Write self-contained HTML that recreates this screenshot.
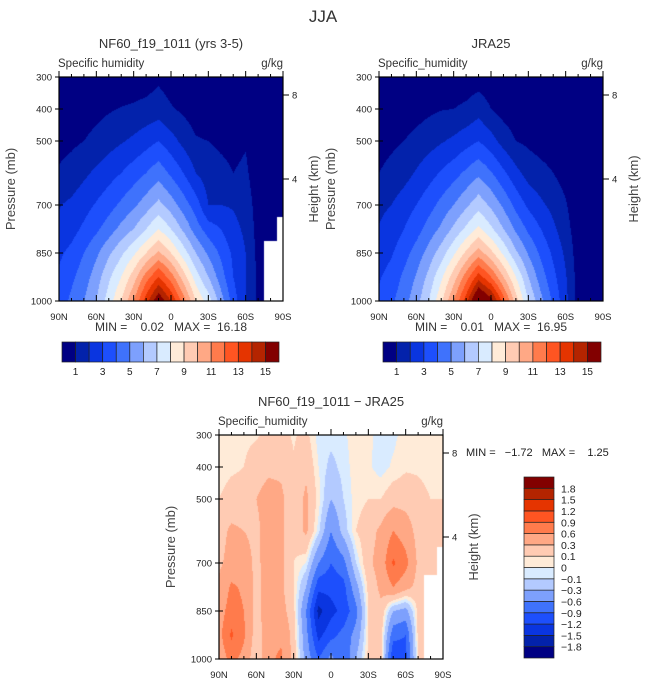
<!DOCTYPE html>
<html><head><meta charset="utf-8">
<style>
html,body{margin:0;padding:0;background:#fff;}
#root{position:relative;width:647px;height:684px;overflow:hidden;font-family:"Liberation Sans",sans-serif;}
canvas{position:absolute;}
svg{position:absolute;left:0;top:0;}
text{white-space:pre;}
</style></head>
<body>
<div id="root">
<canvas id="c1" width="224" height="224" style="left:59px;top:77px"></canvas>
<canvas id="c2" width="224" height="224" style="left:379px;top:77px"></canvas>
<canvas id="c3" width="224" height="224" style="left:219px;top:435px"></canvas>
<svg id="s" width="647" height="684"></svg>
</div>
<script>
const lats=[90,80,70,60,50,40,30,20,10,0,-10,-20,-30,-40,-50,-60,-70,-80,-90];
const pres=[300,400,500,600,700,775,850,925,1000];
const modelQ=[
[0.1,0.15,0.2,0.25,0.3,0.35,0.4,0.5,0.8,0.5,0.3,0.2,0.2,0.2,0.2,0.2,0.1,0.1,0.1],
[0.3,0.4,0.5,0.7,0.9,1.05,1.15,1.3,1.5,1.1,0.8,0.5,0.3,0.3,0.3,0.3,0.1,0.1,0.1],
[0.7,0.8,1.0,1.3,1.6,1.9,2.2,2.6,3.0,2.4,1.7,1.1,1.0,0.8,0.7,0.9,0.2,0.1,0.1],
[1.1,1.4,1.8,2.2,2.6,3.0,3.5,4.0,4.6,3.8,3.0,2.0,1.5,1.3,1.0,1.2,0.3,0.2,0.1],
[1.95,2.2,2.6,3.1,3.6,4.2,4.8,5.5,6.3,5.5,4.5,3.5,2.0,2.0,1.9,1.6,0.5,0.3,0.2],
[2.2,2.6,3.2,3.8,4.5,5.3,6.0,7.0,8.0,7.0,5.8,4.5,3.5,3.0,2.3,1.8,0.6,0.4,null],
[2.8,3.3,4.0,4.8,5.8,6.8,7.8,9.0,10.2,9.0,7.5,6.0,4.8,3.8,2.8,2.0,0.7,null,null],
[3.2,3.8,4.5,5.5,6.8,8.0,9.5,11.5,13.0,11.5,9.5,7.5,6.0,4.5,3.0,2.0,0.8,null,null],
[3.5,4.2,5.0,6.0,7.5,9.0,11.0,13.5,16.0,14.0,11.5,9.0,7.5,5.5,3.5,2.0,0.8,null,null]];
const jraQ=[
[0.1,0.1,0.15,0.2,0.25,0.3,0.35,0.4,0.5,0.4,0.3,0.2,0.15,0.1,0.1,0.1,0.1,0.1,0.1],
[0.3,0.35,0.45,0.6,0.8,0.95,1.0,1.2,1.6,1.0,0.6,0.4,0.3,0.3,0.2,0.2,0.1,0.1,0.1],
[0.6,0.8,1.0,1.3,1.6,1.9,2.2,2.6,3.0,2.4,1.6,1.0,0.8,0.6,0.5,0.3,0.1,0.1,0.1],
[1.0,1.3,1.6,2.1,2.6,3.1,3.6,4.2,4.8,4.1,3.2,2.3,1.6,1.3,1.0,0.6,0.2,0.1,0.1],
[1.8,2.0,2.5,3.0,3.6,4.3,5.0,5.8,6.6,5.8,4.8,3.7,2.8,2.2,1.7,1.1,0.3,0.1,0.1],
[2.05,2.4,3.0,3.6,4.4,5.2,6.2,7.2,8.2,7.2,6.0,4.8,3.8,3.0,2.2,1.4,0.4,0.2,0.1],
[2.4,2.9,3.6,4.4,5.4,6.5,7.8,9.2,10.5,9.3,7.8,6.2,4.9,3.8,2.8,1.8,0.5,0.2,0.1],
[2.9,3.4,4.2,5.1,6.3,7.8,9.5,11.5,13.5,12.0,10.0,8.0,6.0,4.5,3.3,2.1,0.6,0.3,0.2],
[3.2,3.8,4.6,5.6,7.0,8.8,11.0,13.5,17.0,15.5,12.5,9.5,7.0,5.3,3.8,2.3,0.6,0.3,0.2]];
const diffQ=[
[0.05,0.05,0.06,0.08,0.15,0.15,0.08,0.15,-0.05,-0.05,-0.02,0.05,0.03,-0.05,-0.03,0.05,0.05,0.05,0.05],
[0.05,0.08,0.1,0.2,0.25,0.25,0.12,0.25,0.0,-0.15,-0.05,0.05,0.02,-0.05,0.02,0.08,0.08,0.06,0.05],
[0.1,0.15,0.15,0.3,0.4,0.35,0.15,0.35,0.05,-0.3,-0.1,0.05,0.1,0.1,0.2,0.2,0.15,0.1,0.1],
[0.2,0.35,0.3,0.25,0.4,0.35,0.15,0.35,-0.05,-0.6,-0.2,0.1,0.2,0.35,0.6,0.45,0.2,0.15,0.1],
[0.25,0.4,0.4,0.25,0.4,0.35,0.1,0.0,-0.6,-0.9,-0.7,-0.1,0.25,0.4,0.95,0.7,0.25,0.15,null],
[0.35,0.65,0.55,0.2,0.45,0.35,0.1,-0.3,-1.1,-1.1,-1.0,-0.4,0.15,0.35,0.6,0.4,0.2,null,null],
[0.45,0.75,0.6,0.2,0.45,0.4,0.15,-0.6,-1.6,-1.3,-1.1,-0.7,0.1,0.25,-0.3,-0.4,0.15,null,null],
[0.5,0.95,0.65,0.15,0.5,0.55,0.2,-0.5,-1.3,-1.0,-0.8,-0.5,0.1,0.2,-0.8,-0.9,0.15,null,null],
[0.4,0.7,0.5,0.1,0.55,0.65,0.2,-0.4,-0.9,-0.5,-0.9,-0.3,0.15,0.2,-1.2,-1.0,0.1,null,null]];
const qLevels=[1,2,3,4,5,6,7,8,9,10,11,12,13,14,15];
const qLabels=['1','3','5','7','9','11','13','15'];
const dLevels=[-1.8,-1.5,-1.2,-0.9,-0.6,-0.3,-0.1,0,0.1,0.3,0.6,0.9,1.2,1.5,1.8];
const dLabels=['-1.8','-1.5','-1.2','-0.9','-0.6','-0.3','-0.1','0','0.1','0.3','0.6','0.9','1.2','1.5','1.8'];
const pTicks=[300,400,500,700,850,1000];
const latTicks=[90,60,30,0,-30,-60,-90];
const latNames=['90N','60N','30N','0','30S','60S','90S'];
const colors=['#000083','#0322ab','#0a35e0','#1d4ffc','#3f72fc','#7da0fd','#b3caff','#d9ebff','#ffebd8','#ffcbb3','#ffa885','#ff7b4c','#ff5522','#e53400','#b42400','#820000'];

const W=224,H=224;
function xScale(lat){return (90-lat)/180*W;}
function yScale(p){return (p-300)/700*H;}
function colorFor(v,levels){let i=0;while(i<levels.length&&v>=levels[i])i++;return colors[i];}
function sample(grid,lat,p){
  let fi=(90-lat)/10; let i0=Math.min(Math.floor(fi),lats.length-2); let tx=fi-i0;
  let j0=0; while(j0<pres.length-2&&p>pres[j0+1])j0++; let ty=(p-pres[j0])/(pres[j0+1]-pres[j0]);
  const a=grid[j0][i0],b=grid[j0][i0+1],c=grid[j0+1][i0],d=grid[j0+1][i0+1];
  if(a===null||b===null||c===null||d===null){
    return grid[ty<0.5?j0:j0+1][tx<0.5?i0:i0+1];
  }
  return a*(1-tx)*(1-ty)+b*tx*(1-ty)+c*(1-tx)*ty+d*tx*ty;
}
function drawField(id,grid,levels){
  const ctx=document.getElementById(id).getContext('2d');
  for(let y=0;y<H;y++){for(let x=0;x<W;x++){
    const lat=90-(x+0.5)/W*180, p=300+(y+0.5)/H*700;
    const v=sample(grid,lat,p);
    ctx.fillStyle=v===null?'#ffffff':colorFor(v,levels);
    ctx.fillRect(x,y,1,1);
  }}
}
drawField('c1',modelQ,qLevels);
drawField('c2',jraQ,qLevels);
drawField('c3',diffQ,dLevels);

const svg=document.getElementById('s');
const NS='http://www.w3.org/2000/svg';
function mk(tag,attrs,name,txt){const e=document.createElementNS(NS,tag);for(const k in attrs)e.setAttribute(k,attrs[k]);
  
  
  if(txt!==undefined)e.textContent=txt;svg.appendChild(e);return e;}
function text(x,y,s,size,anchor,name,extra){const a={x:x,y:y,'font-size':size,'text-anchor':anchor||'middle',fill:'#000','font-family':'Liberation Sans, sans-serif'};if(extra)for(const k in extra)a[k]=extra[k];return mk('text',a,name,s);}

text(323,22,'JJA',17,'middle','figure-title',{fill:'#333'});
function panel(ox,oy,title,minmax,heightTicks,pfx){
  text(ox+112,oy-29,title,13,'middle',pfx+'-title',{fill:'#333'});
  text(ox-1,oy-10,pfx==='model'?'Specific humidity':'Specific_humidity',11.5,'start',pfx+'-variable-label',{fill:'#333'});
  text(ox+W,oy-10,'g/kg',11.5,'end',pfx+'-units-label',{fill:'#333'});
  mk('rect',{x:ox,y:oy,width:W,height:H,fill:'none',stroke:'#000','stroke-width':1.2},pfx+'-plot-frame');
  for(let lat=90;lat>=-90;lat-=10){
    const x=ox+xScale(lat);const major=lat%30===0;
    mk('line',{x1:x,x2:x,y1:oy,y2:oy-(major?6:3),stroke:'#000','stroke-width':1},pfx+'-top-tick');
    mk('line',{x1:x,x2:x,y1:oy+H,y2:oy+H-(major?6:3),stroke:'#000','stroke-width':1},pfx+'-bottom-tick');
  }
  latTicks.forEach((lat,i)=>text(ox+xScale(lat),oy+H+19,latNames[i],9.5,'middle',pfx+'-x-tick-label',{fill:'#222'}));
  pTicks.forEach(p=>{const y=oy+yScale(p);
    mk('line',{x1:ox-4,x2:ox+4,y1:y,y2:y,stroke:'#000','stroke-width':1},pfx+'-y-tick');
    text(ox-7,y+3.5,String(p),9.5,'end',pfx+'-y-tick-label',{fill:'#222'});});
  heightTicks.forEach((h,i)=>{const y=oy+h;
    mk('line',{x1:ox+W,x2:ox+W+6,y1:y,y2:y,stroke:'#000','stroke-width':1},pfx+'-height-tick');
    text(ox+W+9,y+3.5,i===0?'8':'4',9.5,'start',pfx+'-height-tick-label',{fill:'#222'});});
  text(0,0,'Pressure (mb)',13,'middle',pfx+'-y-axis-title',{transform:'translate('+(ox-44)+','+(oy+112)+') rotate(-90)',fill:'#444'});
  text(0,0,'Height (km)',13,'middle',pfx+'-height-axis-title',{transform:'translate('+(ox+W+35)+','+(oy+112)+') rotate(-90)',fill:'#444'});
  if(minmax) text(ox+112,oy+H+30,minmax,12,'middle',pfx+'-min-max',{fill:'#333'});
}
panel(59,77,'NF60_f19_1011 (yrs 3-5)','MIN =    0.02   MAX =  16.18',[18,102],'model');
panel(379,77,'JRA25','MIN =    0.01   MAX =  16.95',[18,102],'jra');
panel(219,435,'NF60_f19_1011 \u2212 JRA25',null,[18,102],'diff');
text(466,456,'MIN =   \u22121.72   MAX =    1.25',11,'start','diff-min-max',{fill:'#222'});

function hbar(x0,x1,y,pfx){
  const bw=(x1-x0)/16;
  colors.forEach((c,i)=>mk('rect',{x:x0+i*bw,y:y,width:bw,height:20,fill:c,stroke:'#222','stroke-width':0.7},pfx+'-colorbar-box'));
  qLabels.forEach((l,i)=>text(x0+bw*(1+2*i),y+33,l,10,'middle',pfx+'-colorbar-label',{fill:'#222'}));
}
hbar(62,279,342,'model');
hbar(383,601,342,'jra');
const vx=524,vy0=477,vy1=658,bh=(vy1-vy0)/16;
colors.forEach((c,i)=>mk('rect',{x:vx,y:vy1-(i+1)*bh,width:30,height:bh,fill:c,stroke:'#222','stroke-width':0.7},'diff-colorbar-box'));
dLabels.forEach((l,i)=>text(561,vy1-(i+1)*bh+4,l.replace('-','\u2212'),10.5,'start','diff-colorbar-label',{fill:'#222'}));
</script>
</body></html>
